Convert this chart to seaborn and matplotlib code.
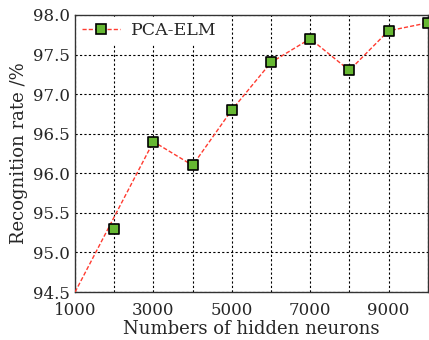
import numpy as np
import pandas as pd
import seaborn as sns
import matplotlib.pyplot as plt
from matplotlib.lines import Line2D
from matplotlib.ticker import MultipleLocator, FixedLocator

sns.set_style("ticks")
plt.rcParams['font.family'] = ['DejaVu Serif']
plt.rcParams['mathtext.fontset'] = 'dejavuserif'

# Data
neurons = [2000, 3000, 4000, 5000, 6000, 7000, 8000, 9000, 10000]
rate = [95.3, 96.4, 96.1, 96.8, 97.4, 97.7, 97.3, 97.8, 97.9]
# the dashed curve starts at the corner and skips the 2000 point
line_x = [1000, 3000, 4000, 5000, 6000, 7000, 8000, 9000, 10000]
line_y = [94.5, 96.4, 96.1, 96.8, 97.4, 97.7, 97.3, 97.8, 97.9]
xticks = [1000, 3000, 5000, 7000, 9000]

pts = pd.DataFrame({"neurons": neurons, "rate": rate})
curve = pd.DataFrame({"neurons": line_x, "rate": line_y})

red = "#ff3b30"
green = "#66b832"

fig, ax = plt.subplots(figsize=(4.29, 3.40), dpi=100)

sns.lineplot(data=curve, x="neurons", y="rate", ax=ax, color=red,
             linestyle=(0, (3, 1.5)), linewidth=1.0, zorder=3)
sns.scatterplot(data=pts, x="neurons", y="rate", ax=ax, marker="s", s=42,
                color=green, edgecolor="black", linewidth=1.2, zorder=4)

ax.set_xlim(1000, 10000)
ax.set_ylim(94.5, 98.0)
ax.xaxis.set_major_locator(FixedLocator(xticks))
ax.xaxis.set_minor_locator(MultipleLocator(1000))
ax.yaxis.set_major_locator(MultipleLocator(0.5))
ax.set_yticklabels([f"{v:.1f}" for v in ax.get_yticks()])

ax.grid(True, which="both", color="black", linestyle=(0, (2, 2)), linewidth=0.8)
ax.tick_params(which="both", direction="in", labelsize=12, length=0)
ax.tick_params(axis="x", pad=7)
ax.tick_params(axis="y", pad=4)
for sp in ax.spines.values():
    sp.set_color("#333333")
    sp.set_linewidth(1.0)

ax.set_xlabel("Numbers of hidden neurons", fontsize=13, labelpad=1)
ax.set_ylabel("Recognition rate /%", fontsize=13, labelpad=3)

handle = Line2D([], [], color=red, linestyle=(0, (3, 1.5)), linewidth=1.0,
                marker="s", markersize=6.5, markerfacecolor=green,
                markeredgecolor="black", markeredgewidth=1.2)
leg = ax.legend([handle], ["PCA-ELM"], loc="upper left", fontsize=12.5,
                frameon=True, fancybox=False, borderaxespad=0.1,
                handlelength=2.2, handletextpad=0.6, borderpad=0.3)
leg.get_frame().set_edgecolor("white")
leg.get_frame().set_facecolor("white")
leg.get_frame().set_alpha(1.0)

fig.subplots_adjust(left=0.175, right=0.997, top=0.956, bottom=0.141)
fig.savefig("out.png", dpi=100)
